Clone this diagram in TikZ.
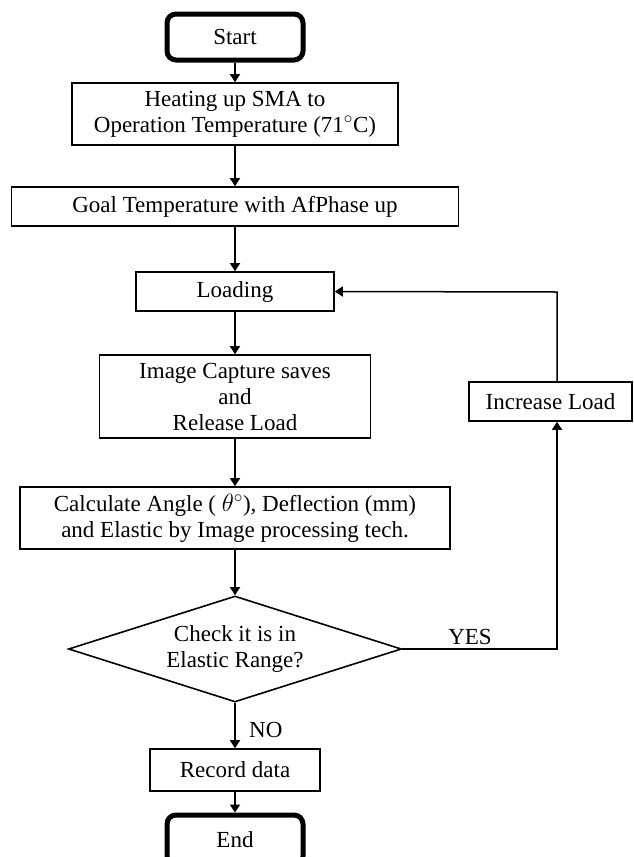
\documentclass[tikz,border=0pt]{standalone}
\usepackage{fontspec}
\setmainfont{Liberation Serif}
\usetikzlibrary{arrows.meta,shapes.geometric}
\tikzset{
  box/.style={draw, line width=1.6pt, rectangle, inner sep=0pt, align=center,
    font=\fontsize{23}{26}\selectfont},
  terminal/.style={box, line width=5pt, rounded corners=9pt,
    minimum width=136pt, minimum height=46pt},
  decision/.style={box, diamond, aspect=3.14, minimum width=333pt, minimum height=106pt},
  flow/.style={line width=1.5pt, -{Triangle[width=10pt,length=8pt]}},
  tag/.style={font=\fontsize{23}{26}\selectfont, inner sep=1pt}
}
\begin{document}
\begin{tikzpicture}[x=1pt,y=-1pt]
\useasboundingbox (0,0) rectangle (633,857);
% Draw the steps down the middle
\draw (235,37) node[terminal] (start) {Start};
\draw (235,114) node[box, minimum width=326pt, minimum height=62pt] (heat)
  {Heating up SMA to\\Operation Temperature (71$^{\circ}$C)};
\draw (235,206.5) node[box, minimum width=447pt, minimum height=39pt] (goal)
  {Goal Temperature with AfPhase up};
\draw (235,291.5) node[box, minimum width=198pt, minimum height=39pt] (load) {Loading};
\draw (235,396.5) node[box, minimum width=271pt, minimum height=83pt] (capture)
  {Image Capture saves\\and\\Release Load};
\draw (235,518) node[box, minimum width=430pt, minimum height=62pt] (calc)
  {Calculate Angle ( $\theta^{\circ}$), Deflection (mm)\\and Elastic by Image processing tech.};
\draw (235,649) node[decision] (check) {Check it is in\\Elastic Range?};
\draw (235,770) node[box, minimum width=170pt, minimum height=42pt] (record) {Record data};
\draw (235,840) node[terminal, minimum height=50pt] (end) {End};
% The box on the right side of the loop
\draw (550.5,401.5) node[box, minimum width=163pt, minimum height=39pt] (inc) {Increase Load};
% Corners of the loop
\coordinate (yesturn) at (557,649);
\coordinate (loopturn) at (557,292);
% Arrows down the middle
\foreach \a/\b in {start/heat, heat/goal, goal/load, load/capture, capture/calc,
  calc/check, check/record, record/end}
{
  \draw[flow] (\a) -- (\b);
}
% Loop back to loading
\draw[flow] (check.east) -- (yesturn) -- (yesturn |- inc.south);
\draw[flow] (yesturn |- inc.north) -- (loopturn) -- (load.east);
% Labels on the branches
\draw (470,646) node[tag, anchor=south] (yes) {YES};
\draw (248,730) node[tag, anchor=west] (no) {NO};
\end{tikzpicture}
\end{document}
